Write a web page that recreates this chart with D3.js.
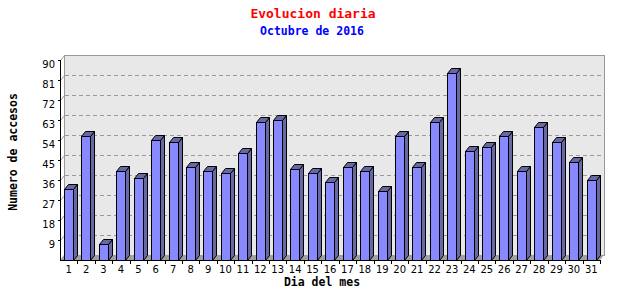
<!DOCTYPE html>
<html>
<head>
<meta charset="utf-8">
<script src="https://cdn.jsdelivr.net/npm/d3@7"></script>
<style>
    body { margin: 0; background: #fff; }
    svg { display: block; }
</style>
</head>
<body>
<script>
// daily visits chart, drawn with d3

//chart data
var days = d3.range(1, 32).map(String);
var visits = [32, 56, 7, 40, 37, 54, 53, 42, 40, 39, 48, 62, 63, 41, 39, 35,
              42, 40, 31, 56, 42, 62, 84, 49, 51, 56, 40, 60, 53, 44, 36];
var yTicks = [9, 18, 27, 36, 45, 54, 63, 72, 81, 90];
var yMax = 90;

(function(){
    var width = 640,
        height = 300;

    //front plot area and 3d depth
    var left = 60, right = 600, top = 60, bottom = 260;
    var dx = 4, dy = 5;

    var svg = d3.select("body")
        .append("svg")
        .attr("width", width)
        .attr("height", height);

    var x = d3.scaleBand()
        .domain(days)
        .range([left, right]);

    var y = d3.scaleLinear()
        .domain([0, yMax])
        .range([bottom, top]);

    //back wall
    svg.append("rect")
        .attr("x", left + dx + 0.5)
        .attr("y", top - dy + 0.5)
        .attr("width", right - left)
        .attr("height", bottom - top)
        .style("fill", "#e8e8e8")
        .style("stroke", "#999");

    //floor
    svg.append("path")
        .attr("d", "M" + left + "," + bottom + "L" + right + "," + bottom +
              "L" + (right + dx) + "," + (bottom - dy) + "L" + (left + dx) + "," + (bottom - dy) + "Z")
        .style("fill", "#a0a0a0");

    //dashed grid on the back wall
    var grid = svg.append("g").style("stroke", "#999").attr("shape-rendering", "crispEdges");
    grid.selectAll(".grid")
        .data(yTicks.slice(0, -1))
        .enter()
        .append("line")
        .attr("x1", left + dx + 1)
        .attr("x2", right + dx)
        .attr("y1", function(d){ return Math.round(y(d)) - dy + 0.5; })
        .attr("y2", function(d){ return Math.round(y(d)) - dy + 0.5; })
        .style("stroke-dasharray", "4,3");
    //little slanted links from the axis to the wall
    svg.selectAll(".link")
        .data(yTicks)
        .enter()
        .append("line")
        .attr("x1", left + 0.5)
        .attr("x2", left + dx + 0.5)
        .attr("y1", function(d){ return Math.round(y(d)) + 0.5; })
        .attr("y2", function(d){ return Math.round(y(d)) - dy + 0.5; })
        .style("stroke", "#999");

    //bars
    var barW = 9;
    var bars = svg.selectAll(".bar")
        .data(days)
        .enter()
        .append("g")
        .attr("class", "bar");

    function x0(d){ return Math.round(x(d) + 4) + 0.5; }
    function yt(d, i){ return Math.round(y(visits[i])) + 0.5; }

    //side
    bars.append("path")
        .attr("d", function(d, i){
            var a = x0(d) + barW, t = yt(d, i);
            return "M" + a + "," + t + "L" + (a + dx) + "," + (t - dy) +
                   "L" + (a + dx) + "," + (bottom - dy + 0.5) + "L" + a + "," + (bottom + 0.5) + "Z";
        })
        .style("fill", "#6868a4")
        .style("stroke", "#000");
    //top
    bars.append("path")
        .attr("d", function(d, i){
            var a = x0(d), t = yt(d, i);
            return "M" + a + "," + t + "L" + (a + dx) + "," + (t - dy) +
                   "L" + (a + barW + dx) + "," + (t - dy) + "L" + (a + barW) + "," + t + "Z";
        })
        .style("fill", "#6868a4")
        .style("stroke", "#000");
    //front
    bars.append("rect")
        .attr("x", x0)
        .attr("y", yt)
        .attr("width", barW)
        .attr("height", function(d, i){ return bottom + 0.5 - yt(d, i); })
        .style("fill", "#8888ff")
        .style("stroke", "#000");

    //axes
    var axes = svg.append("g").attr("shape-rendering", "crispEdges").style("stroke", "#000");
    axes.append("line")
        .attr("x1", left + 0.5).attr("x2", left + 0.5)
        .attr("y1", top).attr("y2", bottom + 1);
    axes.append("line")
        .attr("x1", left).attr("x2", right + 1)
        .attr("y1", bottom + 0.5).attr("y2", bottom + 0.5);
    //x ticks at band edges
    axes.selectAll(".xt")
        .data(days)
        .enter()
        .append("line")
        .attr("x1", function(d){ return Math.round(x(d) + x.bandwidth()) + 0.5; })
        .attr("x2", function(d){ return Math.round(x(d) + x.bandwidth()) + 0.5; })
        .attr("y1", bottom)
        .attr("y2", bottom + 4);
    //y ticks
    axes.selectAll(".yt")
        .data(yTicks)
        .enter()
        .append("line")
        .attr("x1", left - 2)
        .attr("x2", left + 1)
        .attr("y1", function(d){ return Math.round(y(d)) + 0.5; })
        .attr("y2", function(d){ return Math.round(y(d)) + 0.5; });

    //tick labels
    svg.selectAll(".xl")
        .data(days)
        .enter()
        .append("text")
        .attr("x", function(d){ return x(d) + x.bandwidth() / 2; })
        .attr("y", bottom + 13)
        .attr("text-anchor", "middle")
        .style("font", "10px 'DejaVu Sans'")
        .text(function(d){ return d; });

    svg.selectAll(".yl")
        .data(yTicks)
        .enter()
        .append("text")
        .attr("x", 55)
        .attr("y", function(d){ return y(d) + 7.5; })
        .attr("text-anchor", "end")
        .style("font", "10px 'DejaVu Sans'")
        .text(function(d){ return d; });

    //titles
    svg.append("text")
        .attr("x", 313).attr("y", 18)
        .attr("text-anchor", "middle")
        .style("font", "bold 13px 'DejaVu Sans Mono'")
        .style("fill", "#ff0000")
        .text("Evolucion diaria");
    svg.append("text")
        .attr("x", 312).attr("y", 35)
        .attr("text-anchor", "middle")
        .style("font", "bold 11.5px 'DejaVu Sans Mono'")
        .style("fill", "#0000ff")
        .text("Octubre de 2016");
    svg.append("text")
        .attr("x", 322).attr("y", 286)
        .attr("text-anchor", "middle")
        .style("font", "bold 11.5px 'DejaVu Sans Mono'")
        .text("Dia del mes");
    svg.append("text")
        .attr("transform", "translate(17,152) rotate(-90)")
        .attr("text-anchor", "middle")
        .style("font", "bold 11.5px 'DejaVu Sans Mono'")
        .text("Numero de accesos");
})();
</script>
</body>
</html>
